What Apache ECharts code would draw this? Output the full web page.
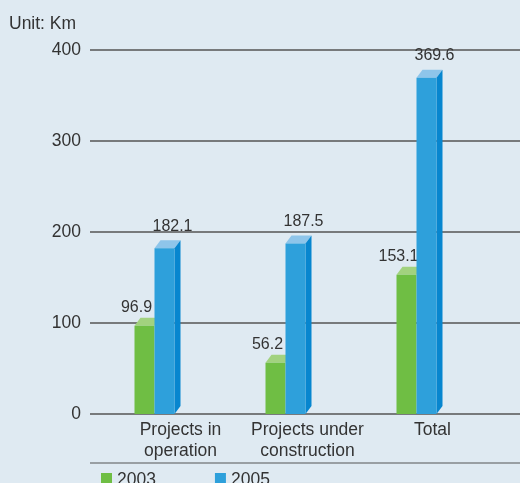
<!DOCTYPE html>
<html>
<head>
<meta charset="utf-8">
<script src="https://cdn.jsdelivr.net/npm/echarts@6/dist/echarts.min.js"></script>
<style>
  html, body { margin: 0; padding: 0; background: #dfeaf2; }
  #chart { width: 520px; height: 483px; }
</style>
</head>
<body>
<div id="chart"></div>
<script>
// data
var categories = ["Projects in\noperation", "Projects under\nconstruction", "Total"];
var years = ["2003", "2005"];
var values2003 = [96.9, 56.2, 153.1];
var values2005 = [182.1, 187.5, 369.6];
var yTicks = [0, 100, 200, 300, 400];

var chart = echarts.init(document.getElementById("chart"));

var FONT = "Liberation Sans, Arial, sans-serif";
var BAR_W = 20, DX = 6, DY = 8;

// 3d top / side faces, drawn after the front bars
function faces(side, topColor, sideColor) {
  return function (params, api) {
    var idx = api.value(0), v = api.value(1);
    var p = api.coord([idx, v]);
    var base = api.coord([idx, 0]);
    var xL = side === "left" ? p[0] - BAR_W : p[0];
    var top = p[1], bot = base[1];
    var children = [{
      type: "polygon",
      shape: { points: [[xL, top], [xL + BAR_W, top], [xL + BAR_W + DX, top - DY], [xL + DX, top - DY]] },
      style: { fill: topColor }
    }];
    if (sideColor) {
      children.push({
        type: "polygon",
        shape: { points: [[xL + BAR_W, top], [xL + BAR_W + DX, top - DY], [xL + BAR_W + DX, bot - DY], [xL + BAR_W, bot]] },
        style: { fill: sideColor }
      });
    }
    return { type: "group", children: children };
  };
}

var labelShift = [52, 44, 32];
var richBase = { fontSize: 17.5, color: "#333", lineHeight: 21, fontFamily: FONT };

chart.setOption({
  backgroundColor: "#dfeaf2",
  animation: false,
  textStyle: { fontFamily: FONT },
  grid: [
    { left: 90, right: 0, top: 50, bottom: 69 },   // gridlines, full width
    { left: 89, right: 38, top: 50, bottom: 69 }   // bars
  ],
  title: {
    text: "Unit: Km",
    left: 4, top: 10,
    textStyle: { fontSize: 17.5, fontWeight: "normal", color: "#333", fontFamily: FONT }
  },
  legend: {
    data: years,
    left: 96, top: 466,
    itemWidth: 11, itemHeight: 14,
    itemGap: 59,
    icon: "rect",
    textStyle: { fontSize: 17.5, color: "#333", fontFamily: FONT }
  },
  graphic: [{
    type: "line",
    shape: { x1: 90, y1: 463, x2: 520, y2: 463 },
    style: { stroke: "#555", lineWidth: 1.2 }
  }],
  xAxis: [
    { type: "value", gridIndex: 0, show: false },
    {
      type: "category",
      gridIndex: 1,
      data: categories,
      axisTick: { show: false },
      axisLine: { show: false },
      axisLabel: {
        interval: 0,
        margin: 6,
        formatter: function (value, index) {
          return value.split("\n").map(function (s) { return "{c" + index + "|" + s + "}"; }).join("\n");
        },
        rich: {
          c0: Object.assign({ padding: [0, 0, 0, labelShift[0]] }, richBase),
          c1: Object.assign({ padding: [0, 0, 0, labelShift[1]] }, richBase),
          c2: Object.assign({ padding: [0, 0, 0, labelShift[2]] }, richBase)
        }
      }
    }
  ],
  yAxis: [
    {
      type: "value", gridIndex: 0,
      min: yTicks[0], max: yTicks[yTicks.length - 1], interval: 100,
      axisLine: { show: false },
      axisTick: { show: false },
      axisLabel: { fontSize: 17.5, color: "#333", margin: 9, fontFamily: FONT },
      splitLine: { lineStyle: { color: "#555", width: 1.5 } }
    },
    {
      type: "value", gridIndex: 1,
      min: yTicks[0], max: yTicks[yTicks.length - 1], interval: 100,
      show: false, splitLine: { show: false }
    }
  ],
  series: [
    {
      name: years[0], type: "bar", data: values2003,
      xAxisIndex: 1, yAxisIndex: 1,
      barWidth: BAR_W, barGap: "0%", z: 2,
      itemStyle: { color: "#6fbe44" },
      label: { show: true, position: "top", distance: 10, offset: [-8, 0], fontSize: 16, color: "#333", fontFamily: FONT }
    },
    {
      name: "top2003", type: "custom", z: 2,
      xAxisIndex: 1, yAxisIndex: 1,
      renderItem: faces("left", "#a2d27f", null),
      data: values2003.map(function (v, i) { return [i, v]; })
    },
    {
      name: years[1], type: "bar", data: values2005,
      xAxisIndex: 1, yAxisIndex: 1,
      barWidth: BAR_W, barGap: "0%", z: 3,
      itemStyle: { color: "#2ea0db" },
      label: { show: true, position: "top", distance: 14, offset: [8, 0], fontSize: 16, color: "#333", fontFamily: FONT }
    },
    {
      name: "top2005", type: "custom", z: 3,
      xAxisIndex: 1, yAxisIndex: 1,
      renderItem: faces("right", "#8ec5ea", "#0786cf"),
      data: values2005.map(function (v, i) { return [i, v]; })
    }
  ]
});
</script>
</body>
</html>
